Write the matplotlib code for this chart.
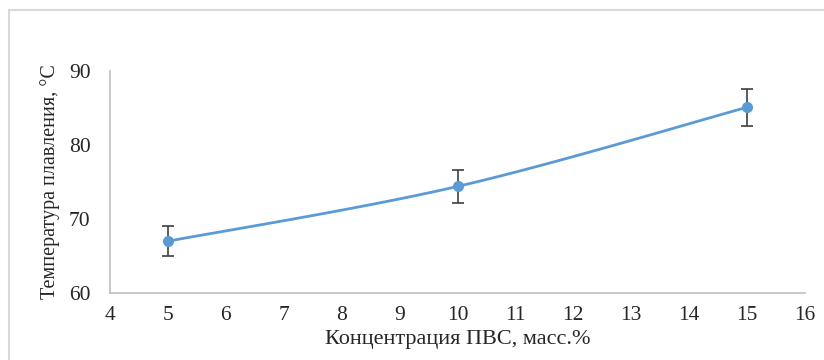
import numpy as np
import matplotlib.pyplot as plt
import matplotlib.patches as mpatches

# concentration of PVA, mass % and melting temperature, C
conc = [5, 10, 15]
temp = [67.0, 74.4, 85.1]
err = [2.0, 2.2, 2.5]

xticks = list(range(4, 17))
yticks = [60, 70, 80, 90]

plt.rcParams['font.family'] = ['Liberation Serif', 'DejaVu Serif']

# excel-like smoothed line (catmull-rom via cubic bezier)
def smooth(xs, ys, n=60):
    p = np.column_stack([xs, ys]).astype(float)
    p = np.vstack([p[0], p, p[-1]])
    out = []
    t = np.linspace(0, 1, n)[:, None]
    for i in range(1, len(p) - 2):
        p0, p1, p2, p3 = p[i - 1], p[i], p[i + 1], p[i + 2]
        c1 = p1 + (p2 - p0) / 6
        c2 = p2 - (p3 - p1) / 6
        seg = ((1 - t) ** 3) * p1 + 3 * ((1 - t) ** 2) * t * c1 + 3 * (1 - t) * t ** 2 * c2 + t ** 3 * p2
        out.append(seg)
    seg = np.vstack(out)
    return seg[:, 0], seg[:, 1]

fig = plt.figure(figsize=(8.24, 3.6), dpi=100)
fig.patches.append(mpatches.Rectangle((9 / 824, -0.05), 1.1, 1 - 10 / 360 + 0.05,
                                      transform=fig.transFigure, fill=False,
                                      edgecolor='#d9d9d9', linewidth=1.5))
ax = fig.add_axes([110 / 824, 1 - 293 / 360, (805 - 110) / 824, (293 - 71) / 360])

sx, sy = smooth(conc, temp)
ax.plot(sx, sy, color='#5B9BD5', linewidth=2, zorder=2)
ax.errorbar(conc, temp, yerr=err, fmt='none', ecolor='#404040', elinewidth=1.2,
            capsize=4, capthick=1.2, zorder=3)
ax.plot(conc, temp, 'o', color='#5B9BD5', markersize=7, zorder=4)

ax.set_xlim(4, 16)
ax.set_ylim(60, 90)
ax.set_xticks(xticks)
ax.set_yticks(yticks)
for s in ['top', 'right']:
    ax.spines[s].set_visible(False)
for s in ['left', 'bottom']:
    ax.spines[s].set_color('#bfbfbf')
    ax.spines[s].set_linewidth(1.2)
ax.tick_params(length=0, labelsize=15.5, colors='#262626')
ax.tick_params(axis='x', pad=9)
ax.tick_params(axis='y', pad=14)

ax.set_xlabel('Концентрация ПВС, масс.%', fontsize=16, color='#262626', labelpad=4)
ax.set_ylabel('Температура плавления, °С', fontsize=14.5, color='#262626', labelpad=6)

fig.savefig('out.png', dpi=100)
